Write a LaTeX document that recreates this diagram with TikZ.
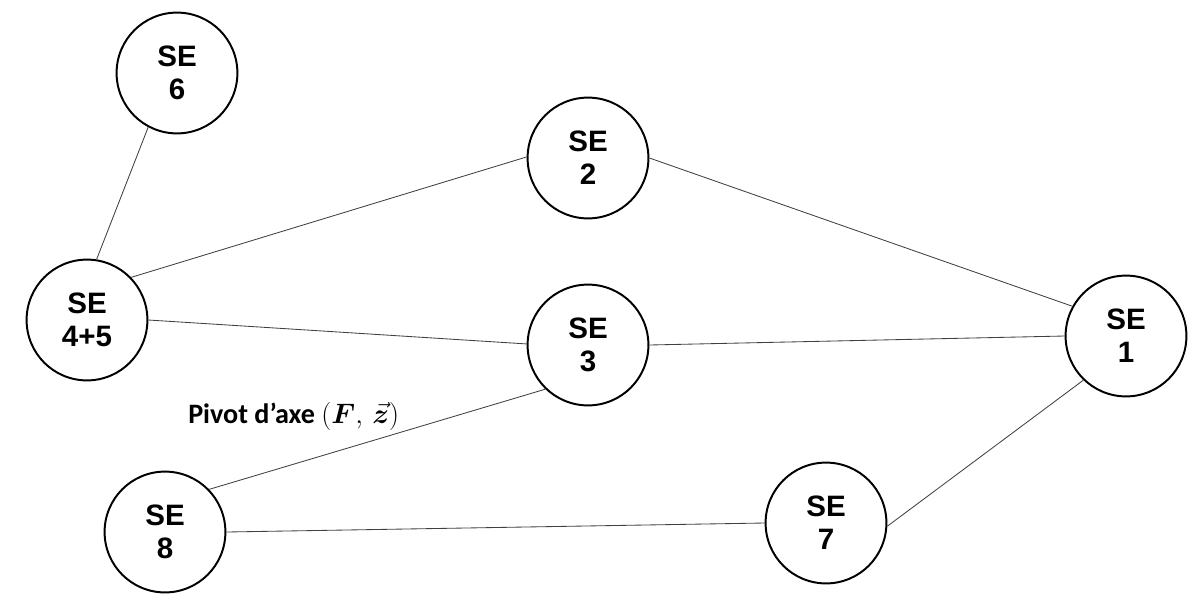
\documentclass[tikz,border=0pt]{standalone}
\usepackage{fix-cm}
\usepackage{amsmath}
\usepackage{bm}
\usepackage{fontspec}
\setmainfont{Liberation Sans}
\newfontfamily\carlito{Carlito}
\usepackage{tikz}

\begin{document}
\begin{tikzpicture}[x=0.025cm, y=-0.025cm,
		se/.style={circle, draw, line width=1.4pt, minimum size=3.02cm, inner sep=0pt, align=center,
			font=\fontsize{21}{23.5}\selectfont\bfseries},
		link/.style={black!75, line width=0.6pt}]
		\useasboundingbox (0,0) rectangle (1200,613);
		\node[se] (se6) at (177,73) {SE\\6};
		\node[se] (se45) at (87,320) {SE\\4+5};
		\node[se] (se2) at (588,158) {SE\\2};
		\node[se] (se3) at (588,345) {SE\\3};
		\node[se] (se1) at (1126,336) {SE\\1};
		\node[se] (se8) at (165,532) {SE\\8};
		\node[se] (se7) at (826,523) {SE\\7};
		\draw[link] (se6.242) -- (se45.81);
		\draw[link] (se45.44) -- (se2.179);
		\draw[link] (se45.0) -- (se3.179);
		\draw[link] (se2.0) -- (se1.151);
		\draw[link] (se3.0) -- (se1.180);
		\draw[link] (se3.226) -- (se8.44);
		\draw[link] (se8.0) -- (se7.180);
		\draw[link] (se7.357) -- (se1.226);
		\node[anchor=base west, inner sep=0pt, font=\carlito\fontsize{20}{24}\selectfont\bfseries] (pivot)
			at (188,423) {Pivot d’axe $(\bm{F},\,\vec{\bm{z}})$};
\end{tikzpicture}
\end{document}
